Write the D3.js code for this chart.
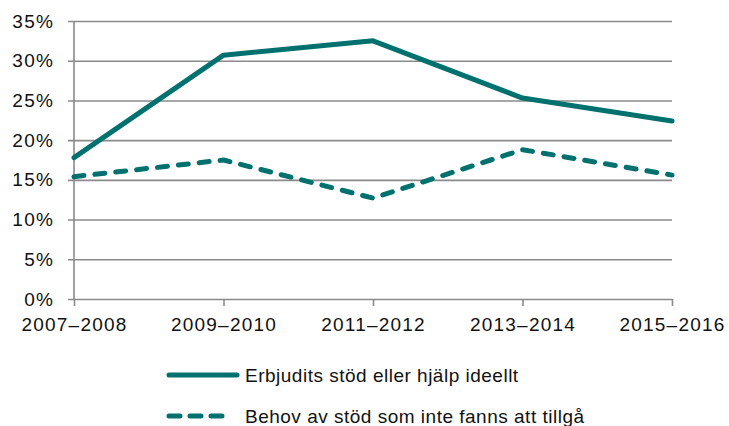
<!DOCTYPE html>
<html>
<head>
<meta charset="utf-8">
<script src="https://cdn.jsdelivr.net/npm/d3@7"></script>
<style>
  body { margin: 0; background: #fff; }
  text { font-family: "Liberation Sans", Arial, sans-serif; fill: #111; }
</style>
</head>
<body>
<div id="chart"></div>
<script>
// data
var periods = ["2007–2008", "2009–2010", "2011–2012", "2013–2014", "2015–2016"];
var offered = [17.8, 30.7, 32.5, 25.3, 22.4];
var unmet = [15.4, 17.5, 12.7, 18.8, 15.6];
var yTicks = [0, 5, 10, 15, 20, 25, 30, 35];
var seriesNames = ["Erbjudits stöd eller hjälp ideellt", "Behov av stöd som inte fanns att tillgå"];

var W = 729, H = 426;
var margin = {top: 21, right: 57, bottom: 127, left: 74},
    width = W - margin.left - margin.right,
    height = H - margin.top - margin.bottom;

var teal = "#00716f";

var svg = d3.select("#chart")
  .append("svg")
    .attr("width", W)
    .attr("height", H)
  .append("g")
    .attr("transform", "translate(" + margin.left + "," + margin.top + ")");

var x = d3.scalePoint()
  .domain(periods)
  .range([0, width]);

var y = d3.scaleLinear()
  .domain([0, 35])
  .range([height, 0]);

// gridlines + y labels
var yAxis = svg.append("g")
  .call(d3.axisLeft(y).tickValues(yTicks).tickSize(-width - 6).tickFormat(d => d + "%").tickPadding(14))
  .attr("transform", "translate(-6,0)");
yAxis.select(".domain").remove();
yAxis.selectAll(".tick line").attr("stroke", "#8a8a8a").attr("stroke-width", 1.6);
yAxis.selectAll(".tick text")
  .attr("font-size", "19px")
  .attr("letter-spacing", "1.2px")
  .style("fill", "#111");

// y axis line
svg.append("line")
  .attr("x1", 0).attr("x2", 0)
  .attr("y1", 0).attr("y2", height)
  .attr("stroke", "#8a8a8a").attr("stroke-width", 1.6);

// x axis
var xAxis = svg.append("g")
  .attr("transform", "translate(0," + height + ")")
  .call(d3.axisBottom(x).tickSize(7).tickPadding(12));
xAxis.select(".domain").remove();
xAxis.selectAll(".tick line").attr("stroke", "#8a8a8a").attr("stroke-width", 1.6);
xAxis.selectAll(".tick text")
  .attr("font-size", "19px")
  .attr("letter-spacing", "1.2px")
  .style("fill", "#111");

var line = d3.line()
  .x((d, i) => x(periods[i]))
  .y(d => y(d));

svg.append("path")
  .datum(offered)
  .attr("fill", "none")
  .attr("stroke", teal)
  .attr("stroke-width", 5)
  .attr("stroke-linejoin", "round")
  .attr("stroke-linecap", "round")
  .attr("d", line);

svg.append("path")
  .datum(unmet)
  .attr("fill", "none")
  .attr("stroke", teal)
  .attr("stroke-width", 5)
  .attr("stroke-linejoin", "round")
  .attr("stroke-linecap", "round")
  .attr("stroke-dasharray", "10,11")
  .attr("d", line);

// legend
var legend = svg.append("g")
  .attr("transform", "translate(" + (-margin.left) + "," + (-margin.top) + ")");

var legendRows = [
  {name: seriesNames[0], y: 375, dash: null, x2: 237},
  {name: seriesNames[1], y: 416, dash: "11,10", x2: 229}
];

legendRows.forEach(function(r) {
  legend.append("line")
    .attr("x1", 169).attr("x2", r.x2)
    .attr("y1", r.y).attr("y2", r.y)
    .attr("stroke", teal)
    .attr("stroke-width", 5)
    .attr("stroke-linecap", "round")
    .attr("stroke-dasharray", r.dash);
  legend.append("text")
    .attr("x", 245)
    .attr("y", r.y)
    .attr("dy", "0.35em")
    .attr("font-size", "19px")
    .attr("letter-spacing", "0.5px")
    .text(r.name);
});
</script>
</body>
</html>
